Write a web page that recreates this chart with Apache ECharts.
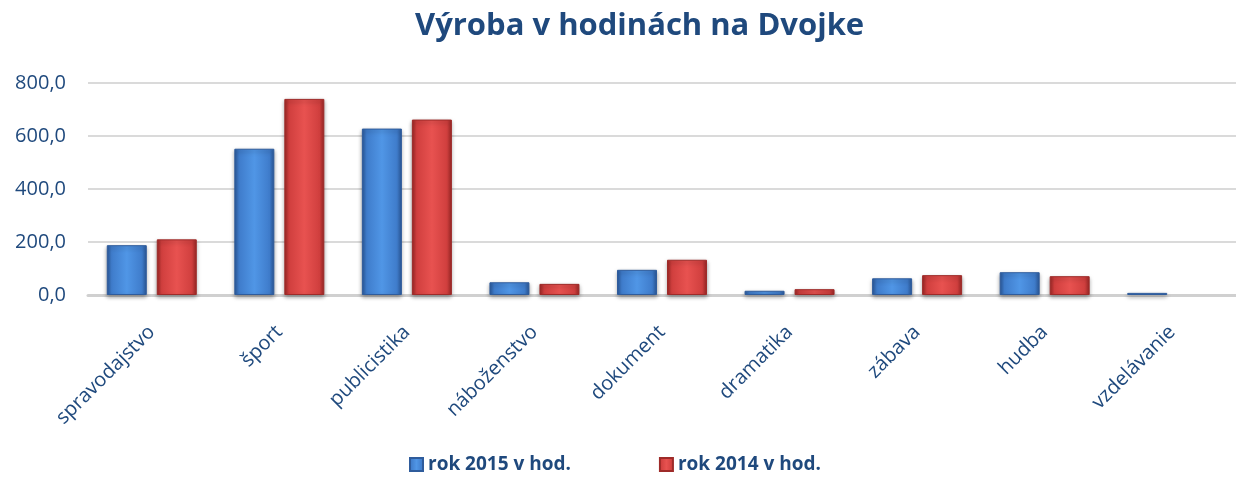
<!DOCTYPE html>
<html>
<head>
<meta charset="utf-8">
<script src="https://cdn.jsdelivr.net/npm/echarts@6/dist/echarts.min.js"></script>
<style>
  html, body { margin: 0; padding: 0; background: #fff; }
  #chart { width: 1236px; height: 479px; }
</style>
</head>
<body>
<div id="chart"></div>
<script>
// kategórie a hodnoty odčítané z grafu
const categories = ['spravodajstvo', 'šport', 'publicistika', 'náboženstvo', 'dokument', 'dramatika', 'zábava', 'hudba', 'vzdelávanie']
const rok2015 = [188, 552, 628, 48, 95, 16, 63, 86, 8]
const rok2014 = [210, 740, 662, 42, 133, 22, 75, 71, null] // vzdelávanie v roku 2014 bez údaja
const seriesNames = ['rok 2015 v hod.', 'rok 2014 v hod.']

const textColor = '#1F497D'
const font = 'Open Sans'

function bevel (light, mid, dark) {
  return new echarts.graphic.LinearGradient(0, 0, 1, 0, [
    { offset: 0, color: dark },
    { offset: 0.12, color: mid },
    { offset: 0.5, color: light },
    { offset: 0.88, color: mid },
    { offset: 1, color: dark }
  ])
}

const chart = echarts.init(document.getElementById('chart'))
const option = {
  animation: false,
  title: {
    text: 'Výroba v hodinách na Dvojke',
    left: 410,
    top: 6,
    textStyle: { color: textColor, fontFamily: font, fontWeight: 'bold', fontSize: 31 }
  },
  legend: {
    bottom: 0,
    left: 404,
    itemGap: 88,
    itemWidth: 13,
    itemHeight: 13,
    icon: 'rect',
    textStyle: { color: textColor, fontFamily: font, fontWeight: 'bold', fontSize: 19 },
    data: seriesNames
  },
  grid: { left: 88, right: -12, top: 83, bottom: 184 },
  xAxis: {
    type: 'category',
    data: categories,
    axisTick: { show: false },
    axisLine: { lineStyle: { color: '#D0D0D0', width: 3 } },
    axisLabel: {
      rotate: 45,
      interval: 0,
      color: textColor,
      fontFamily: font,
      fontSize: 20,
      margin: 34
    }
  },
  yAxis: {
    type: 'value',
    min: 0,
    max: 800,
    interval: 200,
    axisLabel: {
      color: textColor,
      fontFamily: font,
      fontSize: 20,
      margin: 22,
      formatter: function (v) { return v.toFixed(1).replace('.', ',') }
    },
    splitLine: { lineStyle: { color: '#DADADA', width: 2 } }
  },
  series: [
    {
      name: seriesNames[0],
      type: 'bar',
      data: rok2015,
      barWidth: 40,
      barGap: '25%',
      itemStyle: {
        color: bevel('#5096E6', '#3F7CCB', '#2A5899'),
        borderColor: '#2F5C9C',
        borderWidth: 1,
        shadowColor: 'rgba(0,0,0,0.35)',
        shadowBlur: 4,
        shadowOffsetY: 2
      }
    },
    {
      name: seriesNames[1],
      type: 'bar',
      data: rok2014,
      barWidth: 40,
      itemStyle: {
        color: bevel('#E85250', '#D03F3E', '#9B2725'),
        borderColor: '#9E2B29',
        borderWidth: 1,
        shadowColor: 'rgba(0,0,0,0.35)',
        shadowBlur: 4,
        shadowOffsetY: 2
      }
    }
  ]
}
chart.setOption(option)
</script>
</body>
</html>
